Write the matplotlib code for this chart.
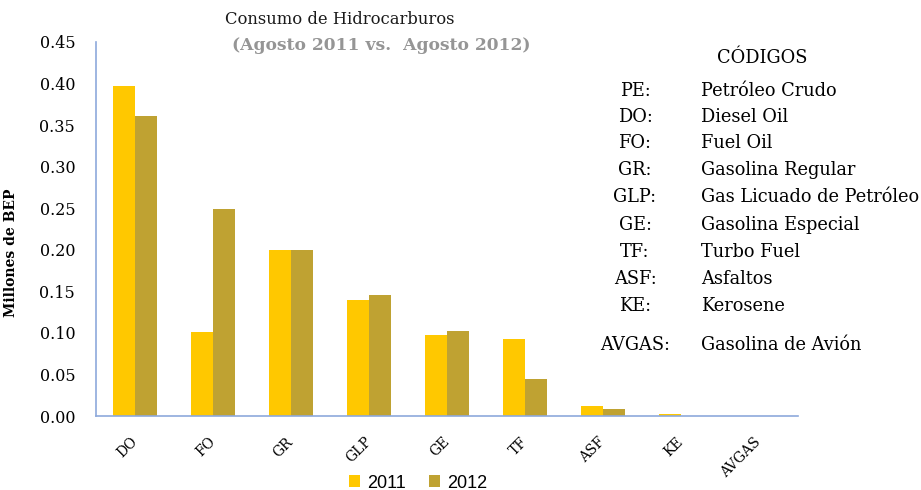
import matplotlib
matplotlib.use("Agg")
import matplotlib.pyplot as plt
import matplotlib.transforms as mtransforms
import numpy as np

categories = ["DO", "FO", "GR", "GLP", "GE", "TF", "ASF", "KE", "AVGAS"]
values_2011 = [0.397, 0.101, 0.200, 0.140, 0.098, 0.093, 0.012, 0.002, 0.0]
values_2012 = [0.361, 0.249, 0.200, 0.146, 0.102, 0.044, 0.009, 0.0005, 0.0]
series_labels = ["2011", "2012"]
yticks = [0.00, 0.05, 0.10, 0.15, 0.20, 0.25, 0.30, 0.35, 0.40, 0.45]

codes = ["PE:", "DO:", "FO:", "GR:", "GLP:", "GE:", "TF:", "ASF:", "KE:", "AVGAS:"]
code_names = ["Petróleo Crudo", "Diesel Oil", "Fuel Oil", "Gasolina Regular",
              "Gas Licuado de Petróleo", "Gasolina Especial", "Turbo Fuel",
              "Asfaltos", "Kerosene", "Gasolina de Avión"]
code_rows_y = [91, 117, 143, 170, 197, 225, 252, 279, 306, 345]

serif = ["DejaVu Serif"]
sans = ["Liberation Sans", "DejaVu Sans"]

W, H = 921, 490
fig = plt.figure(figsize=(W / 100, H / 100), dpi=100)
ax = fig.add_axes([96 / W, (H - 416) / H, (798 - 96) / W, (416 - 42) / H])

x = np.arange(len(categories))
bw = 0.28
c2011 = "#FFC800"
c2012 = "#BFA232"
ax.bar(x - bw / 2, values_2011, bw, color=c2011, label=series_labels[0])
ax.bar(x + bw / 2, values_2012, bw, color=c2012, label=series_labels[1])

ax.set_xlim(-0.5, len(categories) - 0.5)
ax.set_ylim(0, 0.45)
ax.set_yticks(yticks)
ax.set_yticklabels([f"{v:.2f}" for v in yticks], fontfamily=serif, fontsize=11.5)
ax.set_xticks(x)
labels = ax.set_xticklabels(categories, rotation=45, ha="right", va="center",
                            rotation_mode="anchor", fontfamily=serif, fontsize=10)
offset = mtransforms.ScaledTranslation(-3 / 100, 0, fig.dpi_scale_trans)
for lab in labels:
    lab.set_transform(lab.get_transform() + offset)
ax.tick_params(axis="y", length=0, pad=15)
ax.tick_params(axis="x", length=0, pad=17)

for s in ["top", "right"]:
    ax.spines[s].set_visible(False)
for s in ["left", "bottom"]:
    ax.spines[s].set_color("#8EA9DB")
    ax.spines[s].set_linewidth(1.2)

ax.set_ylabel("Millones de BEP", fontfamily=serif, fontweight="bold", fontsize=10)
ax.yaxis.set_label_coords((18 - 96) / 702, (416 - 253) / 374)

fig.text(340 / W, 1 - 20 / H, "Consumo de Hidrocarburos", ha="center", va="center",
         fontfamily=serif, fontsize=11.8, color="#1a1a1a")
fig.text(381 / W, 1 - 46 / H, "(Agosto 2011 vs.  Agosto 2012)", ha="center", va="center",
         fontfamily=serif, fontsize=12.3, fontweight="bold", color="#959595")

fig.text(762 / W, 1 - 58 / H, "CÓDIGOS", ha="center", va="center",
         fontfamily=serif, fontsize=12.8, color="black")
for code, name, yy in zip(codes, code_names, code_rows_y):
    fig.text(635 / W, 1 - yy / H, code, ha="center", va="center",
             fontfamily=serif, fontsize=12.8, color="black")
    fig.text(701 / W, 1 - yy / H, name, ha="left", va="center",
             fontfamily=serif, fontsize=12.8, color="black")

fig.legend(loc="center", bbox_to_anchor=(418 / W, 1 - 483 / H), ncol=2, frameon=False,
           prop={"family": sans, "size": 13}, handlelength=0.6, handleheight=0.6,
           handletextpad=0.4, columnspacing=1.3)

fig.savefig("out.png", dpi=100)
